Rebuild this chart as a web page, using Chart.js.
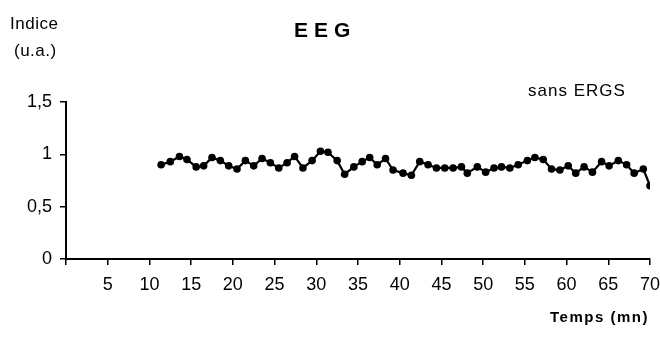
<!DOCTYPE html>
<html>
<head>
<meta charset="utf-8">
<script src="https://cdn.jsdelivr.net/npm/chart.js@4"></script>
<style>
  html, body { margin: 0; padding: 0; background: #fff; }
  #wrap { width: 660px; height: 344px; position: relative; }
</style>
</head>
<body>
<div id="wrap"><canvas id="eeg"></canvas></div>
<script>
// temps (mn)
const temps = [11.4, 12.5, 13.6, 14.5, 15.6, 16.5, 17.5, 18.5, 19.5, 20.5,
  21.5, 22.5, 23.5, 24.5, 25.5, 26.5, 27.4, 28.4, 29.5, 30.5,
  31.4, 32.5, 33.4, 34.5, 35.5, 36.4, 37.3, 38.3, 39.2, 40.4,
  41.4, 42.4, 43.4, 44.4, 45.4, 46.4, 47.4, 48.1, 49.3, 50.3,
  51.3, 52.2, 53.2, 54.2, 55.3, 56.2, 57.2, 58.2, 59.2, 60.2,
  61.1, 62.1, 63.1, 64.2, 65.1, 66.2, 67.2, 68.1, 69.2, 70.0];
// indice (u.a.), sans ERGS
const indice = [0.90, 0.93, 0.98, 0.95, 0.88, 0.89, 0.97, 0.94, 0.89, 0.86,
  0.94, 0.89, 0.96, 0.92, 0.87, 0.92, 0.98, 0.87, 0.94, 1.03,
  1.02, 0.94, 0.81, 0.88, 0.93, 0.97, 0.90, 0.96, 0.85, 0.82,
  0.80, 0.93, 0.90, 0.87, 0.87, 0.87, 0.88, 0.82, 0.88, 0.83,
  0.87, 0.88, 0.87, 0.90, 0.94, 0.97, 0.95, 0.86, 0.85, 0.89,
  0.82, 0.88, 0.83, 0.93, 0.89, 0.94, 0.90, 0.82, 0.86, 0.70];
const xTicks = [5, 10, 15, 20, 25, 30, 35, 40, 45, 50, 55, 60, 65, 70];
const yTicks = [0, 0.5, 1, 1.5];

const FONT = '"Liberation Sans", Arial, sans-serif';

function spaced(ctx, px) {
  if ('letterSpacing' in ctx) ctx.letterSpacing = px + 'px';
}

const textPlugin = {
  id: 'texts',
  afterDraw(chart) {
    const ctx = chart.ctx;
    ctx.save();
    ctx.fillStyle = '#000';
    ctx.textBaseline = 'middle';
    ctx.textAlign = 'left';
    ctx.font = 'bold 21px ' + FONT;
    spaced(ctx, 6);
    ctx.fillText('EEG', 294, 31);
    ctx.font = '17px ' + FONT;
    spaced(ctx, 0.5);
    ctx.fillText('Indice', 10, 24);
    ctx.fillText('(u.a.)', 14, 51);
    spaced(ctx, 1);
    ctx.fillText('sans ERGS', 528, 91);
    ctx.font = 'bold 15px ' + FONT;
    spaced(ctx, 1.5);
    ctx.fillText('Temps (mn)', 550, 318);
    spaced(ctx, 0);
    ctx.restore();
  }
};

new Chart(document.getElementById('eeg'), {
  type: 'line',
  data: {
    datasets: [{
      data: temps.map((t, i) => ({ x: t, y: indice[i] })),
      borderColor: '#000',
      backgroundColor: '#000',
      borderWidth: 2.2,
      pointRadius: 3.8,
      pointBackgroundColor: '#000',
      pointBorderWidth: 0,
      tension: 0
    }]
  },
  options: {
    responsive: true,
    maintainAspectRatio: false,
    animation: false,
    layout: { padding: { top: 102, right: 10, left: 0, bottom: 0 } },
    plugins: { legend: { display: false }, tooltip: { enabled: false } },
    scales: {
      x: {
        type: 'linear',
        min: 0,
        max: 70,
        afterBuildTicks: s => { s.ticks = [0].concat(xTicks).map(v => ({ value: v })); },
        afterFit: s => { s.height = 85; s.paddingLeft = 0; s.paddingRight = 0; },
        border: { color: '#000', width: 2 },
        grid: { drawOnChartArea: false, drawTicks: true, tickLength: 6, color: '#000', lineWidth: 1.5 },
        ticks: {
          color: '#000',
          font: { family: FONT, size: 18 },
          padding: 9,
          maxRotation: 0,
          autoSkip: false,
          callback: v => (v === 0 ? '' : String(v))
        }
      },
      y: {
        min: 0,
        max: 1.5,
        afterBuildTicks: s => { s.ticks = yTicks.map(v => ({ value: v })); },
        afterFit: s => { s.width = 66; s.paddingTop = 0; s.paddingBottom = 0; },
        border: { color: '#000', width: 2 },
        grid: { drawOnChartArea: false, drawTicks: true, tickLength: 6, color: '#000', lineWidth: 1.5 },
        ticks: {
          color: '#000',
          font: { family: FONT, size: 18 },
          padding: 8,
          callback: v => String(v).replace('.', ',')
        }
      }
    }
  },
  plugins: [textPlugin]
});
</script>
</body>
</html>
